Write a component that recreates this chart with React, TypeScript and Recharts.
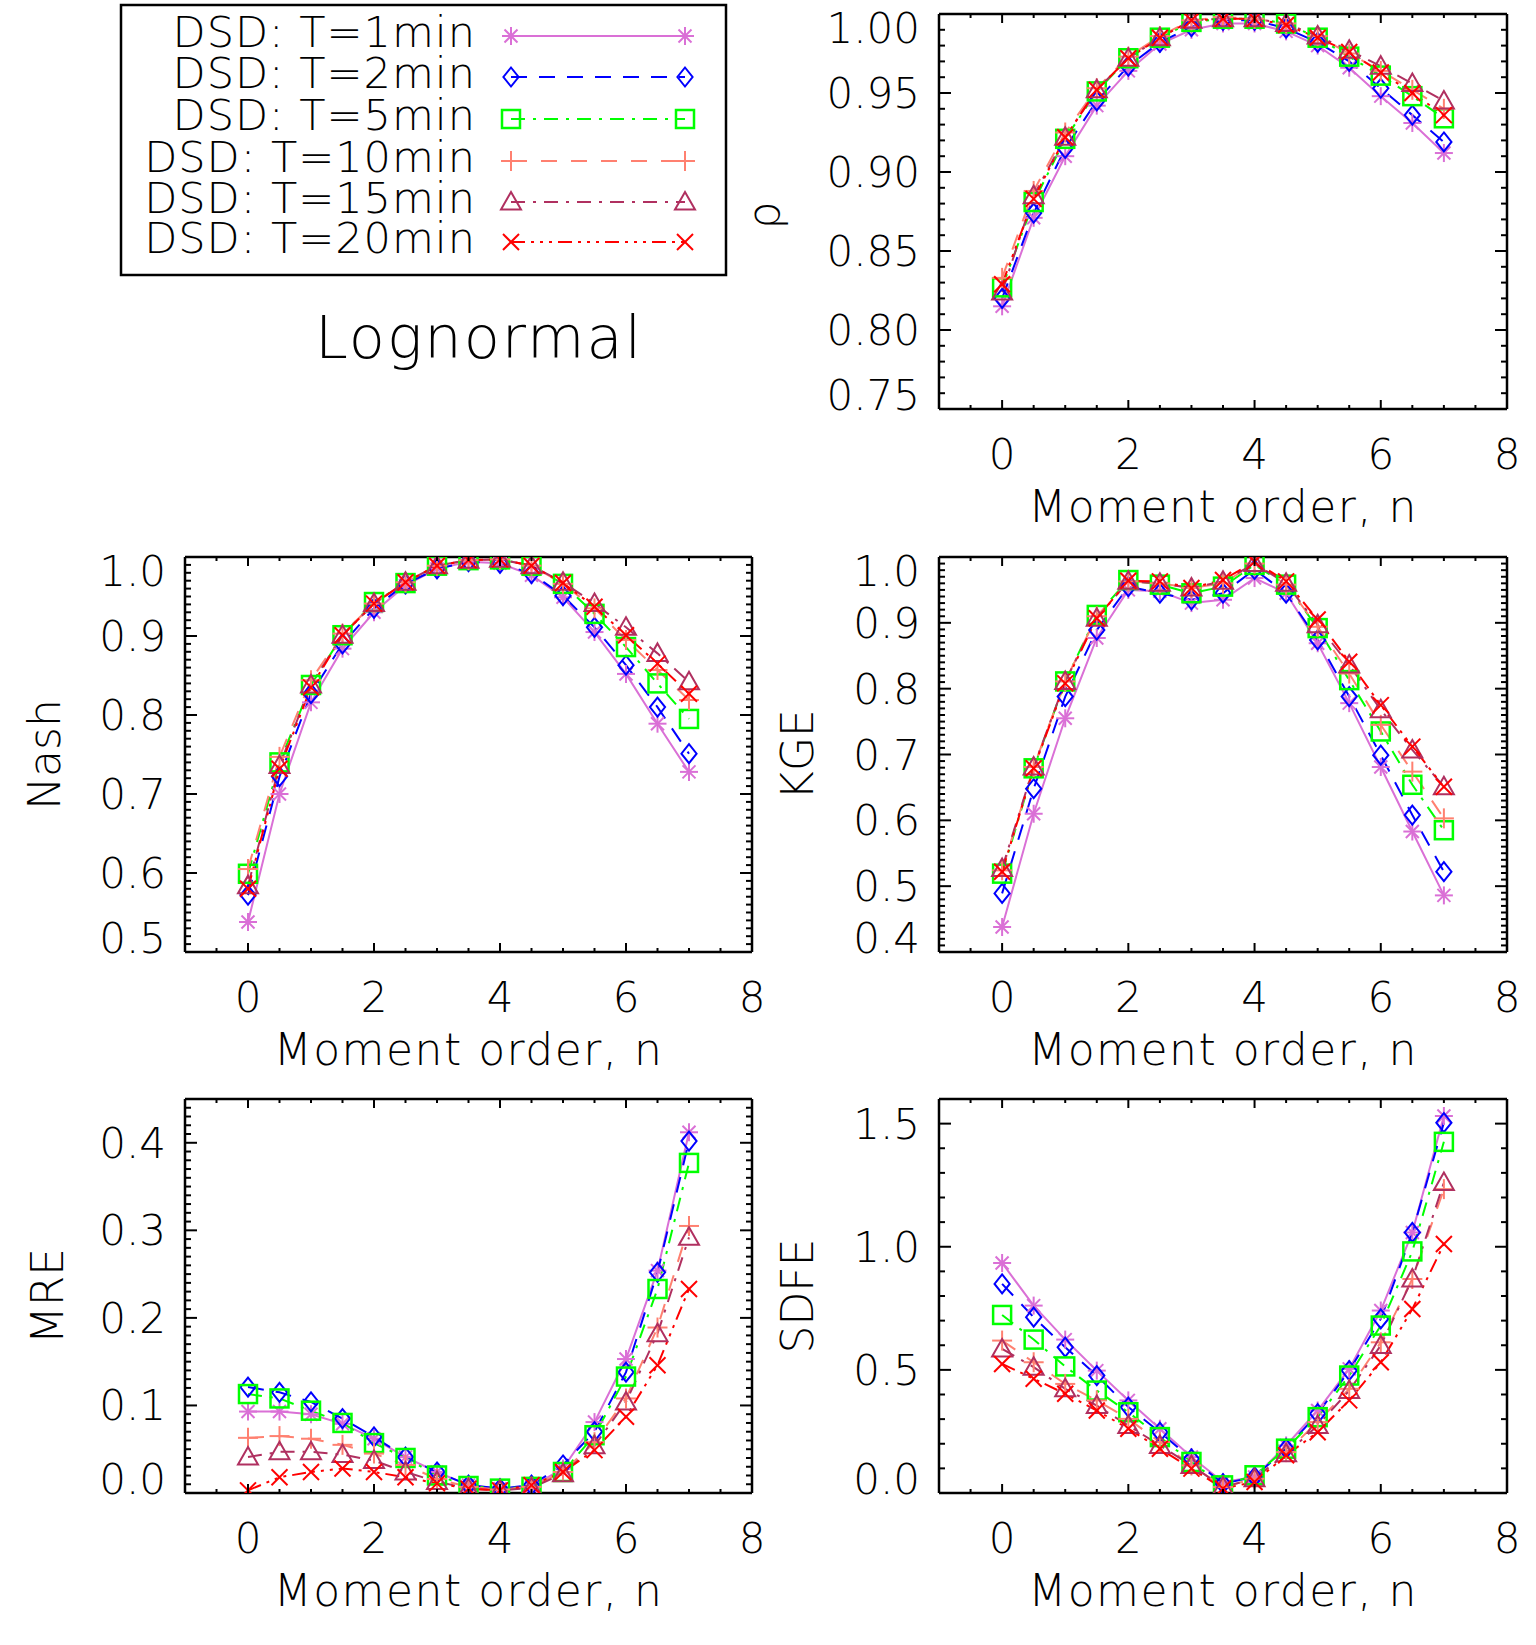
import React from "react";
import { LineChart, Line, XAxis, YAxis, ReferenceLine } from "recharts";

// moment order n (x values shared by every panel)
const moments = [0, 0.5, 1, 1.5, 2, 2.5, 3, 3.5, 4, 4.5, 5, 5.5, 6, 6.5, 7];
const xMajorTicks = [0, 2, 4, 6, 8];
const xAllTicks = [-1, -0.5, 0, 0.5, 1, 1.5, 2, 2.5, 3, 3.5, 4, 4.5, 5, 5.5, 6, 6.5, 7, 7.5, 8];

const seriesLabels = ["DSD: T=1min", "DSD: T=2min", "DSD: T=5min", "DSD: T=10min", "DSD: T=15min", "DSD: T=20min"];
const seriesKeys = ["t1", "t2", "t5", "t10", "t15", "t20"];
const seriesColors = ["#da70d6", "#0000ff", "#00ff00", "#ff8070", "#b03060", "#ff0000"];
const seriesDashes = ["", "16 12", "14 8 3 8", "16 14", "14 8 3 8", "14 6 3 6 3 6 3 6"];
const seriesMarkers = ["asterisk", "diamond", "square", "plus", "triangle", "cross"];

// correlation rho
const rho1min = [0.815, 0.871, 0.91, 0.942, 0.964, 0.981, 0.99, 0.994, 0.994, 0.989, 0.98, 0.966, 0.948, 0.931, 0.912];
const rho2min = [0.82, 0.874, 0.915, 0.945, 0.967, 0.982, 0.992, 0.996, 0.996, 0.991, 0.982, 0.97, 0.953, 0.936, 0.919];
const rho5min = [0.827, 0.881, 0.921, 0.951, 0.972, 0.985, 0.995, 0.997, 0.997, 0.994, 0.985, 0.973, 0.961, 0.948, 0.934];
const rho10min = [0.833, 0.888, 0.925, 0.953, 0.973, 0.986, 0.996, 0.998, 0.997, 0.994, 0.986, 0.975, 0.964, 0.952, 0.94];
const rho15min = [0.824, 0.885, 0.922, 0.952, 0.972, 0.985, 0.996, 0.997, 0.997, 0.994, 0.986, 0.977, 0.967, 0.956, 0.945];
const rho20min = [0.829, 0.883, 0.922, 0.952, 0.972, 0.985, 0.996, 0.997, 0.997, 0.993, 0.985, 0.976, 0.963, 0.95, 0.936];

// Nash-Sutcliffe
const nash1min = [0.538, 0.7, 0.816, 0.884, 0.93, 0.964, 0.985, 0.994, 0.992, 0.977, 0.949, 0.905, 0.852, 0.789, 0.728];
const nash2min = [0.572, 0.722, 0.827, 0.89, 0.935, 0.966, 0.985, 0.994, 0.992, 0.979, 0.951, 0.911, 0.863, 0.81, 0.751];
const nash5min = [0.599, 0.74, 0.838, 0.901, 0.943, 0.967, 0.989, 0.996, 0.997, 0.989, 0.966, 0.928, 0.886, 0.84, 0.795];
const nash10min = [0.605, 0.747, 0.844, 0.903, 0.941, 0.968, 0.989, 0.996, 0.997, 0.989, 0.966, 0.935, 0.895, 0.857, 0.819];
const nash15min = [0.584, 0.736, 0.838, 0.901, 0.941, 0.968, 0.989, 0.996, 0.997, 0.989, 0.968, 0.941, 0.911, 0.878, 0.842];
const nash20min = [0.58, 0.732, 0.835, 0.901, 0.941, 0.968, 0.989, 0.996, 0.997, 0.989, 0.967, 0.937, 0.901, 0.865, 0.827];

// Kling-Gupta efficiency
const kge1min = [0.438, 0.61, 0.755, 0.877, 0.95, 0.948, 0.93, 0.935, 0.968, 0.945, 0.869, 0.778, 0.681, 0.583, 0.486];
const kge2min = [0.489, 0.648, 0.788, 0.889, 0.955, 0.945, 0.935, 0.945, 0.981, 0.945, 0.874, 0.788, 0.699, 0.608, 0.522];
const kge5min = [0.519, 0.679, 0.811, 0.912, 0.965, 0.958, 0.945, 0.955, 0.988, 0.958, 0.892, 0.813, 0.735, 0.654, 0.585];
const kge10min = [0.524, 0.681, 0.811, 0.91, 0.963, 0.96, 0.953, 0.96, 0.99, 0.958, 0.894, 0.823, 0.745, 0.674, 0.603];
const kge15min = [0.527, 0.681, 0.811, 0.907, 0.963, 0.96, 0.953, 0.963, 0.99, 0.96, 0.897, 0.836, 0.768, 0.707, 0.651];
const kge20min = [0.522, 0.679, 0.808, 0.907, 0.964, 0.963, 0.953, 0.965, 0.993, 0.963, 0.905, 0.841, 0.775, 0.712, 0.651];

// mean relative error
const mre1min = [0.093, 0.093, 0.09, 0.079, 0.062, 0.041, 0.024, 0.009, 0.005, 0.007, 0.028, 0.081, 0.153, 0.254, 0.412];
const mre2min = [0.121, 0.115, 0.104, 0.085, 0.064, 0.041, 0.024, 0.009, 0.005, 0.009, 0.032, 0.07, 0.138, 0.252, 0.402];
const mre5min = [0.113, 0.108, 0.094, 0.08, 0.057, 0.04, 0.02, 0.008, 0.005, 0.007, 0.024, 0.066, 0.133, 0.233, 0.377];
const mre10min = [0.063, 0.065, 0.062, 0.055, 0.045, 0.032, 0.016, 0.007, 0.004, 0.007, 0.024, 0.058, 0.108, 0.189, 0.305];
const mre15min = [0.041, 0.047, 0.047, 0.044, 0.037, 0.024, 0.013, 0.005, 0.003, 0.006, 0.022, 0.054, 0.104, 0.182, 0.292];
const mre20min = [0.003, 0.018, 0.024, 0.028, 0.024, 0.018, 0.011, 0.005, 0.003, 0.009, 0.024, 0.049, 0.087, 0.146, 0.233];

// standard deviation of the fractional error
const sdfe1min = [0.934, 0.761, 0.623, 0.497, 0.376, 0.261, 0.146, 0.045, 0.065, 0.193, 0.335, 0.504, 0.741, 1.058, 1.531];
const sdfe2min = [0.849, 0.714, 0.592, 0.477, 0.349, 0.247, 0.139, 0.038, 0.065, 0.18, 0.322, 0.497, 0.707, 1.058, 1.504];
const sdfe5min = [0.723, 0.623, 0.514, 0.416, 0.328, 0.227, 0.126, 0.031, 0.072, 0.18, 0.308, 0.477, 0.68, 0.981, 1.426];
const sdfe10min = [0.619, 0.531, 0.443, 0.376, 0.301, 0.207, 0.112, 0.024, 0.058, 0.166, 0.288, 0.423, 0.612, 0.869, 1.234];
const sdfe15min = [0.585, 0.511, 0.423, 0.355, 0.274, 0.193, 0.112, 0.024, 0.058, 0.159, 0.274, 0.416, 0.599, 0.869, 1.261];
const sdfe20min = [0.524, 0.464, 0.403, 0.335, 0.261, 0.18, 0.099, 0.018, 0.045, 0.153, 0.247, 0.376, 0.531, 0.747, 1.011];

const rhoTicks = [0.75, 0.8, 0.85, 0.9, 0.95, 1.0];
const nashTicks = [0.5, 0.6, 0.7, 0.8, 0.9, 1.0];
const kgeTicks = [0.4, 0.5, 0.6, 0.7, 0.8, 0.9, 1.0];
const mreTicks = [0, 0.1, 0.2, 0.3, 0.4];
const sdfeTicks = [0, 0.5, 1.0, 1.5];

const FONT = "'DejaVu Sans', 'Liberation Sans', sans-serif";
const YAXIS_W = 180;
const TOP_M = 20;
const RIGHT_M = 40;
const XAXIS_H = 140;

type PanelCfg = {
  title: string;
  left: number;
  top: number;
  right: number;
  bottom: number;
  domain: [number, number];
  major: number[];
  minorStep: number;
  decimals: number;
  titleOffset: number;
  titleDy: number;
  values: number[][];
};

const panels: PanelCfg[] = [
  { title: "ρ", left: 939, top: 14, right: 1507, bottom: 409, domain: [0.75, 1.0], major: rhoTicks, minorStep: 0.01, decimals: 2, titleOffset: 160, titleDy: 4,
    values: [rho1min, rho2min, rho5min, rho10min, rho15min, rho20min] },
  { title: "Nash", left: 185, top: 557, right: 752, bottom: 952, domain: [0.5, 1.0], major: nashTicks, minorStep: 0.01, decimals: 1, titleOffset: 125, titleDy: 0,
    values: [nash1min, nash2min, nash5min, nash10min, nash15min, nash20min] },
  { title: "KGE", left: 939, top: 557, right: 1507, bottom: 952, domain: [0.4, 1.0], major: kgeTicks, minorStep: 0.01, decimals: 1, titleOffset: 126, titleDy: 0,
    values: [kge1min, kge2min, kge5min, kge10min, kge15min, kge20min] },
  { title: "MRE", left: 185, top: 1099, right: 752, bottom: 1493, domain: [0, 0.45], major: mreTicks, minorStep: 0.01, decimals: 1, titleOffset: 122, titleDy: 0,
    values: [mre1min, mre2min, mre5min, mre10min, mre15min, mre20min] },
  { title: "SDFE", left: 939, top: 1099, right: 1507, bottom: 1493, domain: [0, 1.6], major: sdfeTicks, minorStep: 0.1, decimals: 1, titleOffset: 126, titleDy: 0,
    values: [sdfe1min, sdfe2min, sdfe5min, sdfe10min, sdfe15min, sdfe20min] },
];

const near = (a: number, b: number) => Math.abs(a - b) < 1e-6;
const inList = (v: number, list: number[]) => list.some((t) => near(t, v));

function minorTicks(min: number, max: number, step: number) {
  const out: number[] = [];
  const n = Math.round((max - min) / step);
  for (let i = 0; i <= n; i++) out.push(Math.round((min + i * step) * 10000) / 10000);
  return out;
}

function Marker({ kind, cx, cy, color }: { kind: string; cx: number; cy: number; color: string }) {
  const sw = 2;
  if (cx == null || cy == null) return null;
  if (kind === "asterisk") {
    const r = 9, d = 6.5;
    return (
      <g stroke={color} strokeWidth={sw}>
        <line x1={cx - r} y1={cy} x2={cx + r} y2={cy} />
        <line x1={cx} y1={cy - r} x2={cx} y2={cy + r} />
        <line x1={cx - d} y1={cy - d} x2={cx + d} y2={cy + d} />
        <line x1={cx - d} y1={cy + d} x2={cx + d} y2={cy - d} />
      </g>
    );
  }
  if (kind === "diamond") {
    const r = 9.5;
    return <polygon points={`${cx},${cy - r} ${cx + r * 0.8},${cy} ${cx},${cy + r} ${cx - r * 0.8},${cy}`} fill="none" stroke={color} strokeWidth={sw} />;
  }
  if (kind === "square") {
    const r = 9;
    return <rect x={cx - r} y={cy - r} width={2 * r} height={2 * r} fill="none" stroke={color} strokeWidth={sw + 0.5} />;
  }
  if (kind === "plus") {
    const r = 10;
    return (
      <g stroke={color} strokeWidth={sw}>
        <line x1={cx - r} y1={cy} x2={cx + r} y2={cy} />
        <line x1={cx} y1={cy - r} x2={cx} y2={cy + r} />
      </g>
    );
  }
  if (kind === "triangle") {
    const r = 10;
    return <polygon points={`${cx},${cy - r} ${cx + r},${cy + r * 0.75} ${cx - r},${cy + r * 0.75}`} fill="none" stroke={color} strokeWidth={sw} />;
  }
  const r = 8;
  return (
    <g stroke={color} strokeWidth={sw}>
      <line x1={cx - r} y1={cy - r} x2={cx + r} y2={cy + r} />
      <line x1={cx - r} y1={cy + r} x2={cx + r} y2={cy - r} />
    </g>
  );
}

function XTick(props: any) {
  const { x, y, payload, h } = props;
  const v = payload.value;
  const major = inList(v, xMajorTicks);
  const len = major ? 9 : 4;
  return (
    <g>
      <line x1={x} y1={y} x2={x} y2={y - len} stroke="#000" strokeWidth={2} />
      <line x1={x} y1={y - h} x2={x} y2={y - h + len} stroke="#000" strokeWidth={2} />
      {major && (
        <text x={x} y={y + 60} textAnchor="middle" fontFamily={FONT} fontWeight={200} fontSize={42} fill="#000">
          {v}
        </text>
      )}
    </g>
  );
}

function YTick(props: any) {
  const { x, y, payload, w, cfg } = props;
  const v = payload.value;
  const major = inList(v, cfg.major);
  const len = major ? 12 : 6;
  let cy = y;
  if (near(v, cfg.domain[1])) cy = y + 14;
  if (near(v, cfg.domain[0])) cy = y - 14;
  return (
    <g>
      <line x1={x} y1={y} x2={x + len} y2={y} stroke="#000" strokeWidth={2} />
      <line x1={x + w} y1={y} x2={x + w - len} y2={y} stroke="#000" strokeWidth={2} />
      {major && (
        <text x={x - 19} y={cy + 15} textAnchor="end" fontFamily={FONT} fontWeight={200} fontSize={42} fill="#000">
          {v.toFixed(cfg.decimals)}
        </text>
      )}
    </g>
  );
}

function Panel({ cfg }: { cfg: PanelCfg }) {
  const w = cfg.right - cfg.left;
  const h = cfg.bottom - cfg.top;
  const rows = moments.map((n, i) => {
    const row: Record<string, number> = { n };
    seriesKeys.forEach((k, s) => (row[k] = cfg.values[s][i]));
    return row;
  });
  const yTicks = minorTicks(cfg.domain[0], cfg.domain[1], cfg.minorStep);
  const frame = { stroke: "#000", strokeWidth: 2.5 };
  return (
    <div style={{ position: "absolute", left: cfg.left - YAXIS_W, top: cfg.top - TOP_M }}>
      <LineChart
        width={YAXIS_W + w + RIGHT_M}
        height={TOP_M + h + XAXIS_H}
        data={rows}
        margin={{ top: TOP_M, right: RIGHT_M, bottom: 0, left: 0 }}
      >
        <XAxis
          type="number"
          dataKey="n"
          domain={[-1, 8]}
          ticks={xAllTicks}
          interval={0}
          allowDataOverflow
          height={XAXIS_H}
          tickSize={0}
          tickMargin={0}
          tickLine={false}
          axisLine={frame}
          tick={(p: any) => <XTick {...p} h={h} />}
        />
        <YAxis
          type="number"
          domain={cfg.domain}
          ticks={yTicks}
          interval={0}
          allowDataOverflow
          width={YAXIS_W}
          tickSize={0}
          tickMargin={0}
          tickLine={false}
          axisLine={frame}
          tick={(p: any) => <YTick {...p} w={w} cfg={cfg} />}
        />
        <ReferenceLine y={cfg.domain[1]} stroke="#000" strokeWidth={2.5} />
        <ReferenceLine x={8} stroke="#000" strokeWidth={2.5} />
        {seriesKeys.map((k, s) => (
          <Line
            key={k}
            dataKey={k}
            type="linear"
            stroke={seriesColors[s]}
            strokeWidth={2}
            strokeDasharray={seriesDashes[s] || undefined}
            isAnimationActive={false}
            activeDot={false}
            dot={(p: any) => (
              <Marker key={`${k}-${p.index}`} kind={seriesMarkers[s]} cx={p.cx} cy={p.cy} color={seriesColors[s]} />
            )}
          />
        ))}
      </LineChart>
    </div>
  );
}

function Overlay() {
  const legendBase = [47, 88, 130, 172, 213, 253];
  return (
    <svg width={1536} height={1645} style={{ position: "absolute", left: 0, top: 0, pointerEvents: "none" }}>
      <rect x={121} y={5} width={605} height={270} fill="none" stroke="#000" strokeWidth={2.5} />
      {seriesLabels.map((label, s) => {
        const base = legendBase[s];
        const my = base - 11;
        return (
          <g key={label}>
            <text x={476} y={base} textAnchor="end" fontFamily={FONT} fontWeight={200} fontSize={43} letterSpacing={1} fill="#000">
              {label}
            </text>
            <line x1={511} y1={my} x2={685} y2={my} stroke={seriesColors[s]} strokeWidth={2} strokeDasharray={seriesDashes[s] || undefined} />
            <Marker kind={seriesMarkers[s]} cx={511} cy={my} color={seriesColors[s]} />
            <Marker kind={seriesMarkers[s]} cx={685} cy={my} color={seriesColors[s]} />
          </g>
        );
      })}
      <text x={479} y={358} textAnchor="middle" fontFamily={FONT} fontWeight={200} fontSize={59} letterSpacing={2} fill="#000">
        Lognormal
      </text>
      {panels.map((p) => {
        const cx = (p.left + p.right) / 2;
        const cy = (p.top + p.bottom) / 2 + p.titleDy;
        const bx = p.left - p.titleOffset;
        return (
          <g key={p.title}>
            <text x={cx} y={p.bottom + 113} textAnchor="middle" fontFamily={FONT} fontWeight={200} fontSize={44} letterSpacing={1.5} fill="#000">
              Moment order, n
            </text>
            <text x={bx} y={cy} transform={`rotate(-90 ${bx} ${cy})`} textAnchor="middle" fontFamily={FONT} fontWeight={200} fontSize={44} fill="#000">
              {p.title}
            </text>
          </g>
        );
      })}
    </svg>
  );
}

export default function App() {
  return (
    <div style={{ position: "absolute", left: 0, top: 0, width: 1536, height: 1645, background: "#fff" }}>
      {panels.map((p) => (
        <Panel key={p.title} cfg={p} />
      ))}
      <Overlay />
    </div>
  );
}
